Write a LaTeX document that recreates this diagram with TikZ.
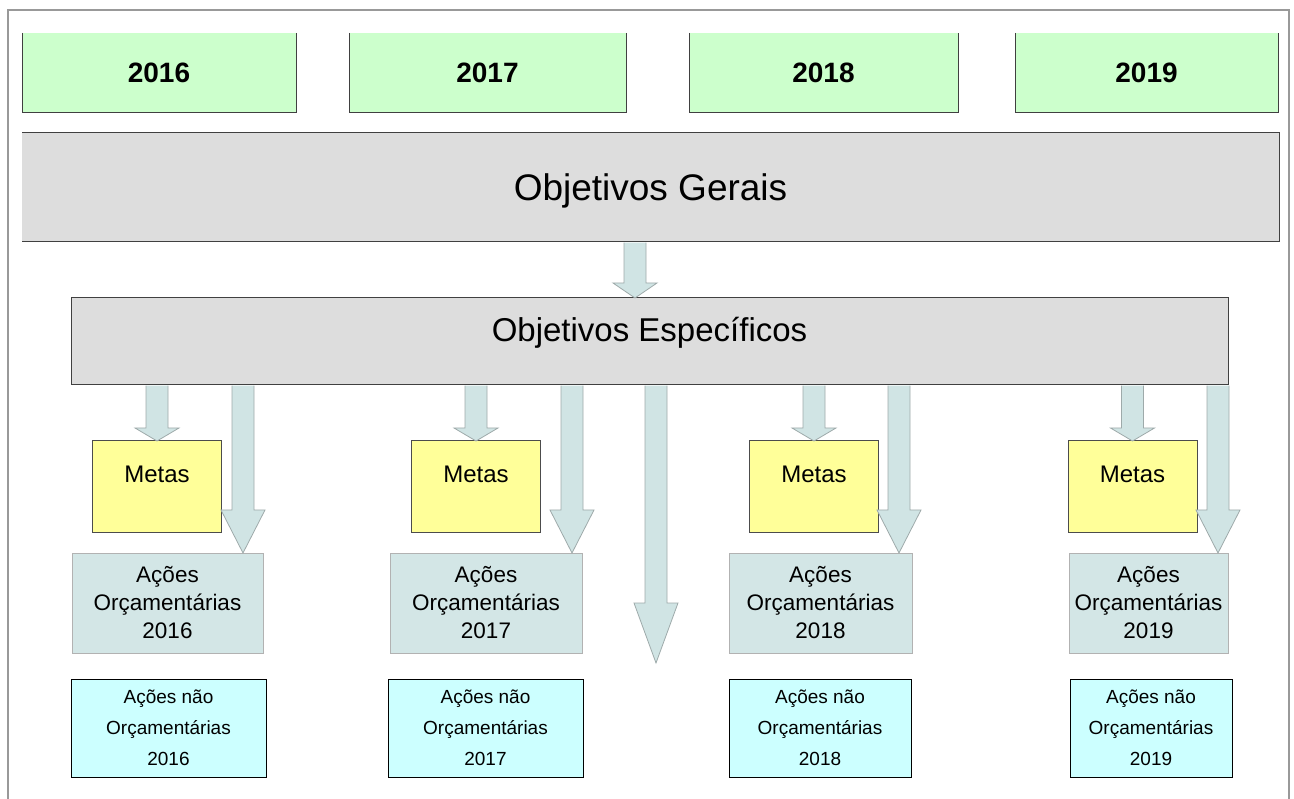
\documentclass[tikz,border=0pt]{standalone}
\usepackage{fontspec}
\setmainfont{Liberation Sans}
\usepackage{tikz}
\usetikzlibrary{calc}
\definecolor{yearfill}{HTML}{CCFFCC}
\definecolor{bandfill}{HTML}{DDDDDD}
\definecolor{metafill}{HTML}{FFFF99}
\definecolor{orcfill}{HTML}{D3E6E6}
\definecolor{naofill}{HTML}{CCFFFF}
\definecolor{arrowfill}{HTML}{D0E4E4}
\definecolor{arrowline}{HTML}{9EAAAA}

\begin{document}
\begin{tikzpicture}[x=1pt, y=-1pt, inner sep=0pt, outer sep=0pt, line width=1pt,
    year/.style = {fill=yearfill, minimum height=80pt, font=\fontsize{28}{30}\selectfont\bfseries},
    band/.style = {fill=bandfill},
    meta/.style = {draw=black!70, fill=metafill, minimum width=129pt, minimum height=91pt, text height=17pt, text depth=25pt, font=\fontsize{24}{28}\selectfont},
    orc/.style = {draw=black!30, fill=orcfill, minimum height=100pt, align=center, font=\fontsize{22.5}{28}\selectfont},
    nao/.style = {draw=black, fill=naofill, minimum height=98pt, align=center, font=\fontsize{19}{31}\selectfont},
    fat/.style = {draw=arrowline, fill=arrowfill, line width=0.8pt}]
    \useasboundingbox (0,0) rectangle (1294,799);
    \draw[black!40, line width=1.5pt] (8,812) |- (1289,10) -- (1289,812);
    % years
    \foreach \yr/\cx/\w in {2016/159/274, 2017/487.5/277, 2018/823.5/269, 2019/1146.5/263} {
        \node[year, minimum width=\w pt] (y\yr) at (\cx,73) {\yr};
        \draw[black!75] (y\yr.north west) |- (y\yr.south east) -- (y\yr.north east);
    }
    \node[band, minimum width=1257pt, minimum height=109pt, text height=27pt, text depth=0pt, font=\fontsize{37}{40}\selectfont] (gerais) at (650.5,187.5) {Objetivos Gerais};
    \draw[black!75] (gerais.north west) -- (gerais.north east) |- (gerais.south west);
    \node[band, draw=black!75, minimum width=1157pt, minimum height=87pt, text height=24pt, text depth=24pt, font=\fontsize{33}{36}\selectfont] (spec) at (649.5,341.5) {Objetivos Específicos};
    % columns
    \foreach \yr/\mx/\ox/\ow/\nx/\nw/\tx in {2016/157/167.5/191/168.5/195/243, 2017/476/486/192/485.5/195/572, 2018/814/820.5/183/820/182/899, 2019/1132.5/1148.5/159/1151/162/1218} {
        \node[meta] (meta\yr) at (\mx,486.5) {Metas};
        \node[orc, minimum width=\ow pt] (orc\yr) at (\ox,603) {Ações\\Orçamentárias\\\yr};
        \node[nao, minimum width=\nw pt] (nao\yr) at (\nx,728) {Ações não\\Orçamentárias\\\yr};
        \coordinate (otip\yr) at (orc\yr.north -| \tx,0);
    }
    \coordinate (gtip) at (spec.north -| 635,0);
    \coordinate (ctip) at (656,663);
    % block arrows
    \foreach \s/\t/\hl in {gerais/gtip/15, spec/ctip/60,
        spec/meta2016.north/13, spec/otip2016/43, spec/meta2017.north/13, spec/otip2017/43,
        spec/meta2018.north/13, spec/otip2018/43, spec/meta2019.north/13, spec/otip2019/43}
        \filldraw[fat] let \p1=(\s.south), \p2=(\t) in
            (\x2-11pt,\y1-0.6pt) -- (\x2-11pt,\y2+\hl pt) -- (\x2-22pt,\y2+\hl pt) -- (\p2)
            -- (\x2+22pt,\y2+\hl pt) -- (\x2+11pt,\y2+\hl pt) -- (\x2+11pt,\y1-0.6pt);
\end{tikzpicture}
\end{document}
